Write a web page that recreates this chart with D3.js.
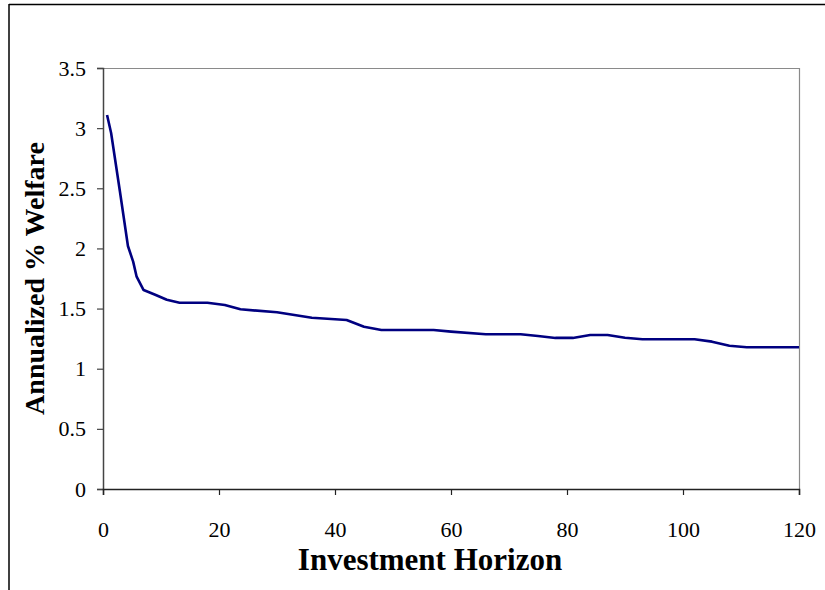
<!DOCTYPE html>
<html>
<head>
<meta charset="utf-8">
<script src="https://cdn.jsdelivr.net/npm/d3@7"></script>
<style>
  html, body { margin: 0; padding: 0; background: #fff; }
  svg { display: block; }
  text { font-family: "Liberation Serif", "Times New Roman", serif; fill: #000; }
</style>
</head>
<body>
<div id="chart"></div>
<script>
// Investment horizon (x) and annualized % welfare (y)
const horizon = [0.7, 1.4, 2.9, 4.3, 5.2, 5.8, 7, 9, 11, 13.2, 18, 21, 23.7, 30, 36, 42, 45, 48, 54, 57, 60, 66, 72, 75, 78, 81, 84, 87, 90, 93, 96, 102, 105, 108, 111, 114, 120];
const welfare = [3.11, 2.96, 2.48, 2.02, 1.89, 1.765, 1.654, 1.615, 1.573, 1.549, 1.549, 1.530, 1.494, 1.469, 1.424, 1.405, 1.349, 1.322, 1.322, 1.322, 1.308, 1.286, 1.286, 1.272, 1.256, 1.256, 1.28, 1.28, 1.258, 1.245, 1.245, 1.245, 1.225, 1.191, 1.178, 1.178, 1.178];
const xTicks = [0, 20, 40, 60, 80, 100, 120];
const yTicks = [0, 0.5, 1, 1.5, 2, 2.5, 3, 3.5];
const xTitle = "Investment Horizon";
const yTitle = "Annualized % Welfare";

const W = 825, H = 590;
const plot = { left: 103, right: 799, top: 68, bottom: 489 };

const svg = d3.select("#chart").append("svg").attr("width", W).attr("height", H);

// outer chart frame (extends beyond right/bottom edges)
svg.append("line").attr("x1", 9).attr("x2", W + 5).attr("y1", 4.5).attr("y2", 4.5)
  .attr("stroke", "#000").attr("stroke-width", 1.5);
svg.append("line").attr("x1", 9).attr("x2", 9).attr("y1", 4).attr("y2", H + 5)
  .attr("stroke", "#000").attr("stroke-width", 1.5);

const x = d3.scaleLinear().domain([0, 120]).range([plot.left, plot.right]);
const y = d3.scaleLinear().domain([0, 3.5]).range([plot.bottom, plot.top]);

// plot area top/right border
svg.append("path")
  .attr("d", `M${plot.left},${plot.top + 0.5}H${plot.right + 0.5}V${plot.bottom}`)
  .attr("fill", "none").attr("stroke", "#8a8a8a").attr("stroke-width", 1.2);

// y axis
const yAxis = svg.append("g").attr("transform", `translate(${plot.left},0)`)
  .call(d3.axisLeft(y).tickValues(yTicks).tickFormat(d3.format("")).tickSize(6).tickPadding(11));
yAxis.select(".domain").attr("stroke", "#444").attr("stroke-width", 1.5);
yAxis.selectAll(".tick line").attr("stroke", "#444").attr("stroke-width", 1.2);
yAxis.selectAll(".tick text").attr("font-size", 22).attr("font-family", "Liberation Serif").attr("fill", "#000");

// x axis
const xAxis = svg.append("g").attr("transform", `translate(0,${plot.bottom})`)
  .call(d3.axisBottom(x).tickValues(xTicks).tickFormat(d3.format("")).tickSize(6).tickPadding(26));
xAxis.select(".domain").attr("stroke", "#222").attr("stroke-width", 1.5);
xAxis.selectAll(".tick line").attr("stroke", "#222").attr("stroke-width", 1.2);
xAxis.selectAll(".tick text").attr("font-size", 22).attr("font-family", "Liberation Serif").attr("fill", "#000");

// line
const line = d3.line().x((d, i) => x(horizon[i])).y(d => y(d));
svg.append("path").datum(welfare)
  .attr("d", line)
  .attr("fill", "none").attr("stroke", "#000080").attr("stroke-width", 2.6)
  .attr("stroke-linejoin", "round").attr("stroke-linecap", "butt");

// titles
svg.append("text").attr("x", 430).attr("y", 570).attr("text-anchor", "middle")
  .attr("font-size", 31).attr("font-weight", "bold").text(xTitle);
svg.append("text").attr("transform", `translate(44,${(plot.top + plot.bottom) / 2}) rotate(-90)`)
  .attr("text-anchor", "middle").attr("font-size", 28).attr("font-weight", "bold").text(yTitle);
</script>
</body>
</html>
